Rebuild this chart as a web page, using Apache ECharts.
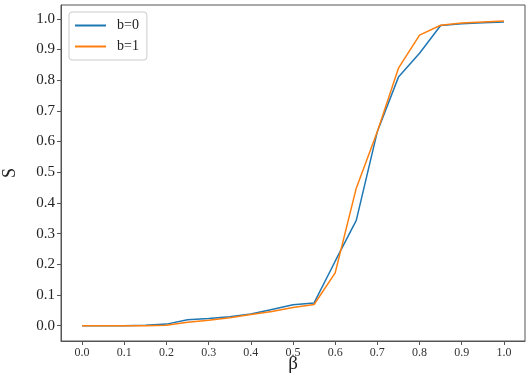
<!DOCTYPE html>
<html>
<head>
<meta charset="utf-8">
<script src="https://cdn.jsdelivr.net/npm/echarts@6/dist/echarts.min.js"></script>
<style>html,body{margin:0;padding:0;background:#fff}#c{width:531px;height:376px}</style>
</head>
<body>
<div id="c"></div>
<script>
var betas = [0,0.05,0.1,0.15,0.2,0.25,0.3,0.35,0.4,0.45,0.5,0.55,0.6,0.65,0.7,0.75,0.8,0.85,0.9,0.95,1.0];
var s_b0 = [0,0,0,0.001,0.005,0.019,0.023,0.029,0.038,0.053,0.068,0.074,0.21,0.343,0.633,0.81,0.888,0.978,0.984,0.987,0.99];
var s_b1 = [0,0,0,0,0.001,0.011,0.018,0.026,0.036,0.046,0.059,0.069,0.172,0.448,0.633,0.839,0.947,0.979,0.986,0.99,0.993];
var xTicks = [0,0.1,0.2,0.3,0.4,0.5,0.6,0.7,0.8,0.9,1.0];
var yTicks = [0,0.1,0.2,0.3,0.4,0.5,0.6,0.7,0.8,0.9,1.0];

function pairs(xs, ys){ return xs.map(function(x,i){return [x, ys[i]];}); }
var serif = '"Liberation Serif","DejaVu Serif",serif';
var chart = echarts.init(document.getElementById('c'), null, {renderer:'canvas'});
chart.setOption({
  animation: false,
  backgroundColor: '#fff',
  grid: {left: 61, top: 5, right: 6, bottom: 35, containLabel: false, outerBoundsMode: 'none',
    show: true, borderColor: '#555', borderWidth: 1, backgroundColor: 'transparent'},
  legend: {
    orient: 'vertical', left: 69, top: 12,
    data: [{name:'b=0', icon:'rect'}, {name:'b=1', icon:'rect'}],
    itemWidth: 31, itemHeight: 2, itemGap: 0,
    padding: [3, 8, 3, 6],
    backgroundColor: '#fff', borderColor: '#ccc', borderWidth: 1, borderRadius: 3,
    textStyle: {fontFamily: serif, fontSize: 14, color: '#222', lineHeight: 21, padding: [0,0,0,6]}
  },
  xAxis: {
    type: 'value', min: -0.05, max: 1.05,
    name: 'β', nameLocation: 'middle', nameGap: 14, nameMoveOverlap: false,
    nameTextStyle: {fontFamily: serif, fontSize: 19, color: '#222'},
    axisLine: {show: true, onZero: false, lineStyle: {color: '#555', width: 1}},
    axisTick: {show: true, inside: false, length: 4, customValues: xTicks, lineStyle: {color: '#555'}},
    axisLabel: {customValues: xTicks, fontFamily: serif, fontSize: 12, color: '#333', margin: 6,
      formatter: function(v){return v.toFixed(1);}},
    splitLine: {show: false}
  },
  yAxis: {
    type: 'value', min: -0.05, max: 1.045,
    name: 'S', nameLocation: 'middle', nameGap: 42, nameRotate: 90, nameMoveOverlap: false,
    nameTextStyle: {fontFamily: serif, fontSize: 18, color: '#222'},
    axisLine: {show: true, onZero: false, lineStyle: {color: '#555', width: 1}},
    axisTick: {show: true, inside: false, length: 4, customValues: yTicks, lineStyle: {color: '#555'}},
    axisLabel: {customValues: yTicks, fontFamily: serif, fontSize: 15, color: '#222', margin: 6,
      formatter: function(v){return v.toFixed(1);}},
    splitLine: {show: false}
  },
  series: [
    {name: 'b=0', type: 'line', data: pairs(betas, s_b0), symbol: 'none', showSymbol: false,
      lineStyle: {color: '#1f77b4', width: 1.5}, itemStyle: {color: '#1f77b4'}},
    {name: 'b=1', type: 'line', data: pairs(betas, s_b1), symbol: 'none', showSymbol: false,
      lineStyle: {color: '#ff7f0e', width: 1.5}, itemStyle: {color: '#ff7f0e'}}
  ]
});
</script>
</body>
</html>
